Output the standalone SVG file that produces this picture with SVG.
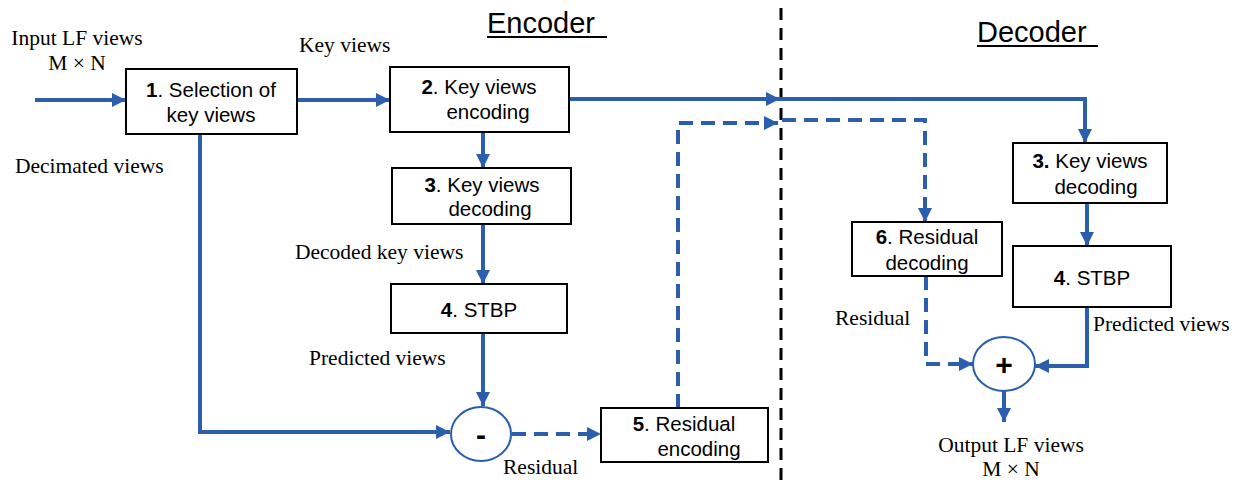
<svg xmlns="http://www.w3.org/2000/svg" width="1245" height="483" viewBox="0 0 1245 483">
<style>
.box{fill:#fff;stroke:#000;stroke-width:2}
.bt{font-family:"Liberation Sans",Arial,sans-serif;font-size:20.5px;fill:#000;text-anchor:middle}
.lbl{font-family:"Liberation Serif","Times New Roman",serif;font-size:21.5px;fill:#000}
.c{fill:none;stroke:#2b5fae;stroke-width:4}
.d{fill:none;stroke:#2b5fae;stroke-width:4;stroke-dasharray:14 8}
.circ{fill:#fff;stroke:#2b5fae;stroke-width:2}
.title{font-family:"Liberation Sans",Arial,sans-serif;font-size:29px;fill:#000}
.op{font-family:"Liberation Sans",Arial,sans-serif;font-size:30px;font-weight:bold;fill:#000;text-anchor:middle}
</style>
<defs>
<marker id="ah" viewBox="0 0 10 10" refX="10" refY="5" markerWidth="3.6" markerHeight="3.6" orient="auto" markerUnits="strokeWidth">
<path d="M0,0 L10,5 L0,10 z" fill="#2b5fae"/>
</marker>
</defs>
<rect width="1245" height="483" fill="#fff"/>
<line x1="781" y1="8" x2="781" y2="483" stroke="#000" stroke-width="3" stroke-dasharray="12 8"/>
<text class="title" x="487" y="33">Encoder</text>
<line x1="487" y1="37" x2="607" y2="37" stroke="#000" stroke-width="2"/>
<text class="title" x="977" y="42">Decoder</text>
<line x1="977" y1="46" x2="1098" y2="46" stroke="#000" stroke-width="2"/>
<g id="connectors">
<path class="c" d="M35,100 H126" marker-end="url(#ah)"/>
<path class="c" d="M297,100 H390" marker-end="url(#ah)"/>
<path class="c" d="M569,99 H780" marker-end="url(#ah)"/>
<path class="c" d="M780,99 H1085 V143" marker-end="url(#ah)"/>
<path class="d" d="M678,408 V123 H778" marker-end="url(#ah)"/>
<path class="d" d="M782,120 H925 V222" marker-end="url(#ah)"/>
<path class="c" d="M483,132 V168" marker-end="url(#ah)"/>
<path class="c" d="M483,224 V284" marker-end="url(#ah)"/>
<path class="c" d="M483,333 V406" marker-end="url(#ah)"/>
<path class="c" d="M200,134 V432 H450" marker-end="url(#ah)"/>
<path class="d" d="M512,434 H601" marker-end="url(#ah)"/>
<path class="c" d="M1087,203 V246" marker-end="url(#ah)"/>
<path class="d" d="M926,276 V364 H973" marker-end="url(#ah)"/>
<path class="c" d="M1087,307 V366 H1035" marker-end="url(#ah)"/>
<path class="c" d="M1004,391 V422" marker-end="url(#ah)"/>
</g>
<g id="n1"><rect class="box" x="126" y="69" width="171" height="65"/>
<text class="bt" x="211" y="97"><tspan font-weight="bold">1</tspan>. Selection of</text>
<text class="bt" x="211" y="122">key views</text></g>
<g id="n2"><rect class="box" x="390" y="67" width="179" height="65"/>
<text class="bt" x="479" y="94"><tspan font-weight="bold">2</tspan>. Key views</text>
<text class="bt" x="488" y="119">encoding</text></g>
<g id="n3"><rect class="box" x="392" y="168" width="179" height="56"/>
<text class="bt" x="482" y="192"><tspan font-weight="bold">3</tspan>. Key views</text>
<text class="bt" x="490" y="216">decoding</text></g>
<g id="n4"><rect class="box" x="391" y="284" width="176" height="49"/>
<text class="bt" x="479" y="317"><tspan font-weight="bold">4</tspan>. STBP</text></g>
<g id="nminus"><ellipse class="circ" cx="481" cy="434" rx="30" ry="27"/>
<text class="op" x="481" y="445">-</text></g>
<g id="d3"><rect class="box" x="1013" y="143" width="154" height="60"/>
<text class="bt" x="1090" y="168"><tspan font-weight="bold">3.</tspan> Key views</text>
<text class="bt" x="1096" y="194">decoding</text></g>
<g id="n5"><rect class="box" x="601" y="408" width="167" height="54"/>
<text class="bt" x="684" y="431"><tspan font-weight="bold">5</tspan>. Residual</text>
<text class="bt" x="699" y="456">encoding</text></g>
<g id="d6"><rect class="box" x="852" y="222" width="150" height="54"/>
<text class="bt" x="927" y="244"><tspan font-weight="bold">6</tspan>. Residual</text>
<text class="bt" x="927" y="270">decoding</text></g>
<g id="d4"><rect class="box" x="1013" y="246" width="158" height="61"/>
<text class="bt" x="1092" y="285"><tspan font-weight="bold">4</tspan>. STBP</text></g>
<g id="dplus"><ellipse class="circ" cx="1004" cy="364" rx="31" ry="27"/>
<text class="op" x="1004" y="375">+</text></g>
<g id="labels">
<text class="lbl" x="77" y="45" text-anchor="middle">Input LF views</text>
<text class="lbl" x="77" y="70" text-anchor="middle">M × N</text>
<text class="lbl" x="299" y="52">Key views</text>
<text class="lbl" x="15" y="173">Decimated views</text>
<text class="lbl" x="295" y="259">Decoded key views</text>
<text class="lbl" x="309" y="365">Predicted views</text>
<text class="lbl" x="503" y="474">Residual</text>
<text class="lbl" x="835" y="325">Residual</text>
<text class="lbl" x="1093" y="331">Predicted views</text>
<text class="lbl" x="1011" y="452" text-anchor="middle">Output LF views</text>
<text class="lbl" x="1011" y="476" text-anchor="middle">M × N</text>
</g>
</svg>
